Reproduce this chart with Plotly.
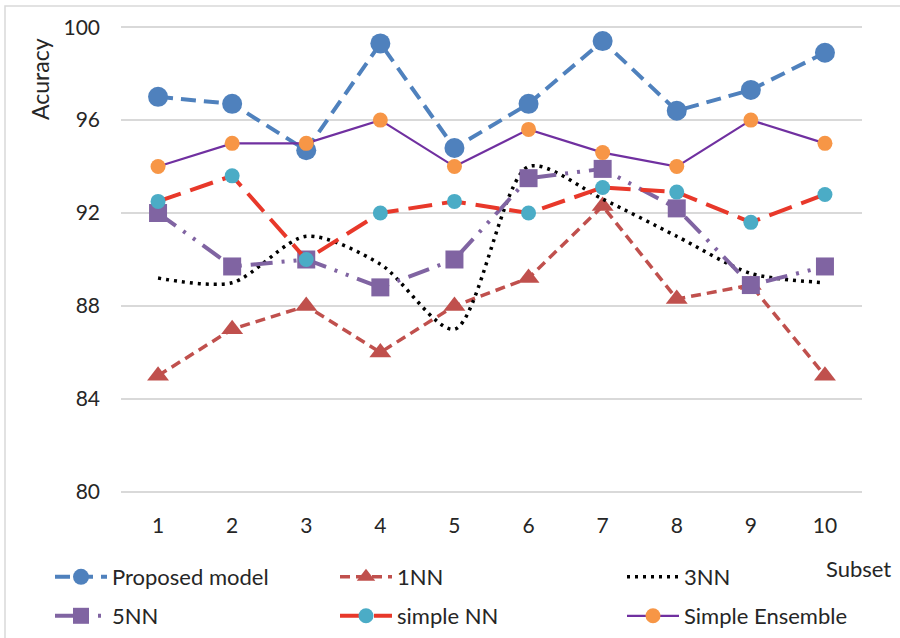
import plotly.graph_objects as go

# Accuracy per subset for each model
subsets = ["1", "2", "3", "4", "5", "6", "7", "8", "9", "10"]
proposed = [97.0, 96.7, 94.7, 99.3, 94.8, 96.7, 99.4, 96.4, 97.3, 98.9]
nn1 = [85.0, 87.0, 88.0, 86.0, 88.0, 89.2, 92.3, 88.3, 88.9, 85.0]
nn3 = [89.2, 89.0, 91.0, 89.8, 87.0, 94.0, 92.6, 91.0, 89.4, 89.0]
nn5 = [92.0, 89.7, 90.0, 88.8, 90.0, 93.5, 93.9, 92.2, 88.9, 89.7]
simple_nn = [92.5, 93.6, 90.0, 92.0, 92.5, 92.0, 93.1, 92.9, 91.6, 92.8]
simple_ens = [94.0, 95.0, 95.0, 96.0, 94.0, 95.6, 94.6, 94.0, 96.0, 95.0]

y_ticks = [80, 84, 88, 92, 96, 100]

W, H = 900, 638
PL, PR, PT, PB = 121, 38, 26, 145
PW, PH = W - PL - PR, H - PT - PB
FONT = "Lato"
TEXT = "#262626"


def px_x(p):
    return (p - PL) / PW


def px_y(p):
    return (PT + PH - p) / PH


fig = go.Figure()

fig.add_trace(go.Scatter(
    x=subsets, y=proposed, name="Proposed model", mode="lines+markers",
    line=dict(color="#4F81BD", width=4, dash="15px,8px"),
    marker=dict(symbol="circle", size=20, color="#4F81BD"),
    cliponaxis=False, legend="legend"))

fig.add_trace(go.Scatter(
    x=subsets, y=nn1, name="1NN", mode="lines+markers",
    line=dict(color="#C0504D", width=3.5, dash="10px,6px"),
    marker=dict(symbol="triangle-up", size=19, color="#C0504D"),
    cliponaxis=False, legend="legend2"))

fig.add_trace(go.Scatter(
    x=subsets, y=nn3, name="3NN", mode="lines",
    line=dict(color="#000000", width=3.5, dash="3px,5px", shape="spline", smoothing=0.8),
    cliponaxis=False, legend="legend3"))

fig.add_trace(go.Scatter(
    x=subsets, y=nn5, name="5NN", mode="lines+markers",
    line=dict(color="#8064A2", width=4, dash="22px,9px,3px,9px,3px,9px"),
    marker=dict(symbol="square", size=18, color="#8064A2"),
    cliponaxis=False, legend="legend4"))

fig.add_trace(go.Scatter(
    x=subsets, y=simple_nn, name="simple NN", mode="lines+markers",
    line=dict(color="#E8382A", width=4, dash="24px,10px"),
    marker=dict(symbol="circle", size=15, color="#4BACC6"),
    cliponaxis=False, legend="legend5"))

fig.add_trace(go.Scatter(
    x=subsets, y=simple_ens, name="Simple Ensemble", mode="lines+markers",
    line=dict(color="#7030A0", width=2.2),
    marker=dict(symbol="circle", size=15, color="#F79646"),
    cliponaxis=False, legend="legend6"))


def legend_at(text_left, center_y):
    # one legend per entry so the 3x2 grid sits at fixed pixel spots
    return dict(
        orientation="h", xanchor="left", yanchor="middle",
        x=px_x(text_left - 62), y=px_y(center_y), itemwidth=52,
        font=dict(family=FONT, size=22, color=TEXT),
        bgcolor="rgba(0,0,0,0)",
    )


fig.update_layout(
    width=W, height=H,
    margin=dict(l=PL, r=PR, t=PT, b=PB, autoexpand=False),
    paper_bgcolor="white", plot_bgcolor="white",
    font=dict(family=FONT, color=TEXT),
    showlegend=True,
    legend=legend_at(112, 577),
    legend2=legend_at(397, 577),
    legend3=legend_at(684, 577),
    legend4=legend_at(112, 616),
    legend5=legend_at(397, 616),
    legend6=legend_at(684, 616),
    xaxis=dict(
        type="category", range=[-0.5, len(subsets) - 0.5],
        showgrid=False, zeroline=False,
        showline=False, ticks="", ticklabelstandoff=18,
        tickfont=dict(family=FONT, size=21, color=TEXT),
    ),
    yaxis=dict(
        range=[79.95, 100.05], tickvals=y_ticks, showgrid=True,
        gridcolor="#D9D9D9", gridwidth=1.5, zeroline=False, showline=False,
        ticks="", ticklabelstandoff=20,
        tickfont=dict(family=FONT, size=21, color=TEXT),
    ),
    annotations=[
        dict(text="Acuracy", xref="paper", yref="paper", x=px_x(40), y=px_y(79),
             textangle=-90, showarrow=False, xanchor="center", yanchor="middle",
             font=dict(family=FONT, size=23, color=TEXT)),
        dict(text="Subset", xref="paper", yref="paper", x=px_x(858), y=px_y(568),
             showarrow=False, xanchor="center", yanchor="middle",
             font=dict(family=FONT, size=22, color=TEXT)),
    ],
    shapes=[
        dict(type="rect", xref="paper", yref="paper", layer="below",
             x0=px_x(5), x1=px_x(910), y0=px_y(650), y1=px_y(6),
             line=dict(color="#D9D9D9", width=1.5), fillcolor="rgba(0,0,0,0)"),
    ],
)

fig.write_html("out.html")
